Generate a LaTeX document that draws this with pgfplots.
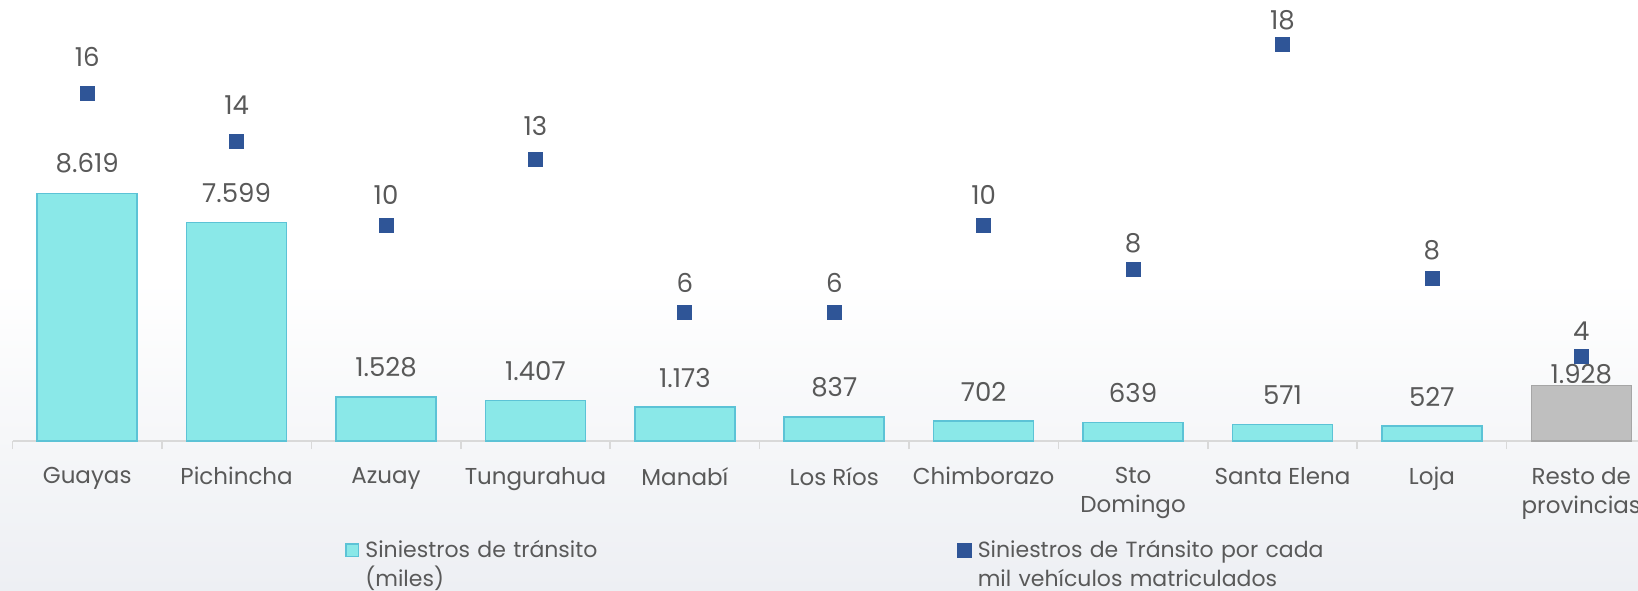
\documentclass[border=0pt]{standalone}
\usepackage{fontspec}
\setmainfont{Poppins}
\usepackage{pgfplots}
\pgfplotsset{compat=1.18}
\definecolor{barfill}{HTML}{8AE8E8}
\definecolor{baredge}{HTML}{5CC3D6}
\definecolor{greyfill}{HTML}{BFBFBF}
\definecolor{greyedge}{HTML}{A6A6A6}
\definecolor{markblue}{HTML}{2F5597}
\definecolor{txt}{HTML}{595959}
\definecolor{axisgray}{HTML}{D9D9D9}
\definecolor{bgbottom}{HTML}{EDEFF3}
\begin{document}
\begin{tikzpicture}[font=\fontsize{11}{14}\selectfont]
\useasboundingbox (0,-295pt) rectangle (819pt,0);
\clip (0,-295pt) rectangle (819pt,0);
\shade[top color=white, bottom color=bgbottom] (0,-140pt) rectangle (819pt,-295pt);
\begin{axis}[
  at={(6.25pt,-220.5pt)}, anchor=south west,
  scale only axis, width=821.75pt, height=220.5pt,
  xmin=-0.5, xmax=10.5, ymin=0, ymax=15345,
  axis x line*=bottom, axis y line=none,
  x axis line style={draw=axisgray, line width=1pt, -},
  xtick={0,...,10},
  xticklabels={Guayas,Pichincha,Azuay,Tungurahua,Manabí,Los Ríos,Chimborazo,{Sto\\Domingo},Santa Elena,Loja,{Resto de\\provincias}},
  major tick length=0pt,
  minor xtick={-0.5,0.5,...,10.5},
  minor tick length=4pt, tick align=outside,
  every minor tick/.style={draw=axisgray, line width=0.8pt},
  xticklabel style={align=center, text=txt, yshift=-9.5pt, font=\fontsize{11.5}{14.5}\selectfont},
  ybar, bar width=50pt, bar shift=0pt,
  nodes near coords, point meta=explicit symbolic,
  nodes near coords style={text=txt, anchor=south, inner sep=0pt, font=\fontsize{13}{15}\selectfont},
  legend columns=2,
  legend style={draw=none, fill=none, at={(0.2022,-0.215)}, anchor=north west, inner sep=0pt,
    nodes={text=txt, align=left, inner xsep=3pt, text width=293pt, font=\fontsize{11}{14.5}\selectfont}},
]
\addplot[fill=barfill, draw=baredge, line width=0.8pt,
  every node near coord/.append style={yshift=9.5pt},
  legend image code/.code={\draw[fill=barfill, draw=baredge, line width=0.8pt] (0pt,-3.15pt) rectangle (6.3pt,3.15pt);}]
  table[meta=lab] {
x y lab
0 8619 8.619
1 7599 7.599
2 1528 1.528
3 1407 1.407
4 1173 1.173
5 837 837
6 702 702
7 639 639
8 571 571
9 527 527
};
\addlegendentry{Siniestros de tránsito\\(miles)}
\addlegendimage{legend image code/.code={\fill[markblue] (0pt,-3.4pt) rectangle (6.8pt,3.4pt);}}
\addlegendentry{Siniestros de Tránsito por cada\\mil vehículos matriculados}
\addplot[fill=greyfill, draw=greyedge, line width=0.8pt, forget plot,
  every node near coord/.append style={yshift=0.5pt}]
  table[meta=lab] {
x y lab
10 1928 1.928
};
\end{axis}
\begin{axis}[
  at={(6.25pt,-220.5pt)}, anchor=south west,
  scale only axis, width=821.75pt, height=220.5pt,
  xmin=-0.5, xmax=10.5, ymin=0, ymax=20.1,
  axis lines=none,
  nodes near coords, point meta=explicit symbolic,
  visualization depends on={value \thisrow{dy}\as\dy},
  nodes near coords style={text=txt, anchor=south, inner sep=0pt, yshift=\dy pt, font=\fontsize{13}{15}\selectfont},
]
\addplot[only marks, mark=square*, mark size=3.5pt, color=markblue]
  table[meta=lab] {
x y lab dy
0 15.86 16 13.2
1 13.67 14 13
2 9.81 10 10.2
3 12.82 13 11.9
4 5.88 6 9.3
5 5.88 6 9.3
6 9.81 10 10.2
7 7.81 8 7.9
8 18.06 18 7
9 7.43 8 9
10 3.87 4 7.5
};
\end{axis}
\end{tikzpicture}
\end{document}
